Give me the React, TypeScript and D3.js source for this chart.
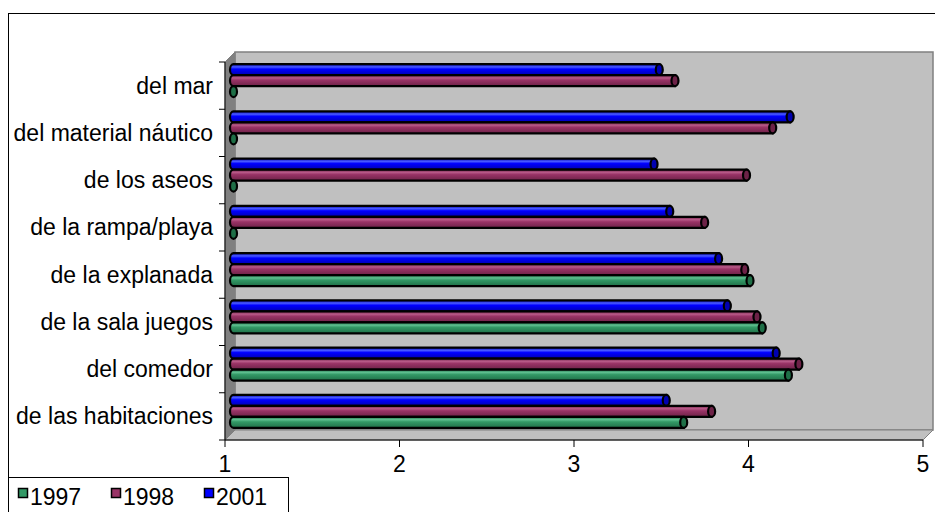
import React from "react";
import * as d3 from "d3";

const categories = [
  "del mar",
  "del material náutico",
  "de los aseos",
  "de la rampa/playa",
  "de la explanada",
  "de la sala juegos",
  "del comedor",
  "de las habitaciones",
];
const seriesNames = ["1997", "1998", "2001"];
const values1997 = [0, 0, 0, 0, 3.98, 4.05, 4.2, 3.6];
const values1998 = [3.55, 4.11, 3.96, 3.72, 3.95, 4.02, 4.26, 3.76];
const values2001 = [3.46, 4.21, 3.43, 3.52, 3.8, 3.85, 4.13, 3.5];
const xTicks = [1, 2, 3, 4, 5];

const colors = ["#339966", "#993366", "#0000FF"];
const lights = ["#5fc090", "#b85a88", "#4a5cff"];
const darks = ["#1f6f47", "#6d2247", "#0000b0"];

const W = 935;
const H = 512;
const X0 = 225;
const X1 = 923;
const YTOP = 62;
const YBOT = 440;
const DX = 10;
const DY = -10;

export default function App() {
  const x = d3.scaleLinear().domain([1, 5]).range([X0, X1]);
  const y = d3.scaleBand().domain(categories).range([YTOP, YBOT]).padding(0);
  const series = [values1997, values1998, values2001];
  const barH = 11;
  const font = "'Liberation Sans', Arial, sans-serif";

  const bars: JSX.Element[] = [];
  categories.forEach((c, ci) => {
    const cy = (y(c) as number) + y.bandwidth() / 2 + DY / 2;
    const groupTop = cy - (barH * 3) / 2;
    for (let k = 0; k < 3; k++) {
      const si = 2 - k; // k=0 -> 2001 (top)
      const v = series[si][ci];
      const top = groupTop + k * barH;
      const ry = barH / 2;
      const rx = 3.5;
      const xs = x(1) + DX / 2 + 3.5;
      const xe = x(Math.max(1, v)) + DX / 2;
      const midY = top + ry;
      const body =
        xe > xs + 0.5
          ? `M${xe},${top} L${xs},${top} A${rx},${ry} 0 0 0 ${xs},${top + barH} L${xe},${top + barH} Z`
          : "";
      bars.push(
        <g key={`${ci}-${si}`}>
          {body && (
            <path d={body} fill={`url(#grad${si})`} stroke="#000" strokeWidth={2.2} />
          )}
          <ellipse
            cx={Math.max(xe, xs)}
            cy={midY}
            rx={rx}
            ry={ry}
            fill={darks[si]}
            stroke="#000"
            strokeWidth={2.2}
          />
        </g>
      );
    }
  });

  return (
    <svg
      width={W}
      height={H}
      style={{ position: "absolute", left: 0, top: 0, background: "#fff" }}
    >
      <defs>
        {colors.map((c, i) => (
          <linearGradient key={i} id={`grad${i}`} x1="0" y1="0" x2="0" y2="1">
            <stop offset="0" stopColor={darks[i]} />
            <stop offset="0.25" stopColor={lights[i]} />
            <stop offset="0.45" stopColor={c} />
            <stop offset="1" stopColor={darks[i]} />
          </linearGradient>
        ))}
      </defs>
      <rect x={8.5} y={13.5} width={W} height={H} fill="#fff" stroke="#000" strokeWidth={1} />

      <rect
        x={X0 + DX}
        y={YTOP + DY}
        width={X1 - X0}
        height={YBOT - YTOP}
        fill="#C0C0C0"
        stroke="#808080"
        strokeWidth={1.5}
      />
      <polygon
        points={`${X0},${YTOP} ${X0 + DX},${YTOP + DY} ${X0 + DX},${YBOT + DY} ${X0},${YBOT}`}
        fill="#808080"
        stroke="#808080"
      />
      <polygon
        points={`${X0},${YBOT} ${X0 + DX},${YBOT + DY} ${X1 + DX},${YBOT + DY} ${X1},${YBOT}`}
        fill="#C0C0C0"
        stroke="#808080"
        strokeWidth={1}
      />

      {bars}

      <line x1={X0} y1={YTOP} x2={X0} y2={YBOT} stroke="#000" strokeWidth={1} />
      {categories.map((c) => (
        <line
          key={c}
          x1={X0 - 6}
          x2={X0}
          y1={y(c) as number}
          y2={y(c) as number}
          stroke="#000"
        />
      ))}
      <line x1={X0 - 6} x2={X0} y1={YBOT} y2={YBOT} stroke="#000" />
      {categories.map((c) => (
        <text
          key={c}
          x={213}
          y={(y(c) as number) + y.bandwidth() / 2}
          textAnchor="end"
          dominantBaseline="central"
          fontFamily={font}
          fontSize={23}
          fill="#000"
        >
          {c}
        </text>
      ))}

      <line x1={X0} y1={YBOT} x2={X1} y2={YBOT} stroke="#000" strokeWidth={1} />
      <line x1={X1} y1={YBOT} x2={X1 + DX} y2={YBOT + DY} stroke="#808080" strokeWidth={1} />
      {xTicks.map((t) => (
        <g key={t}>
          <line x1={x(t)} x2={x(t)} y1={YBOT} y2={YBOT + 7} stroke="#000" />
          <text
            x={x(t)}
            y={472}
            textAnchor="middle"
            fontFamily={font}
            fontSize={23}
            fill="#000"
          >
            {t}
          </text>
        </g>
      ))}

      <rect x={8.5} y={477.5} width={280} height={40} fill="#fff" stroke="#000" strokeWidth={1} />
      {seriesNames.map((s, i) => (
        <g key={s}>
          <rect
            x={18.5 + i * 93}
            y={488.5}
            width={9}
            height={9}
            fill={colors[i]}
            stroke="#000"
            strokeWidth={1.5}
          />
          <text
            x={30 + i * 93}
            y={505}
            fontFamily={font}
            fontSize={23}
            fill="#000"
          >
            {s}
          </text>
        </g>
      ))}
    </svg>
  );
}
